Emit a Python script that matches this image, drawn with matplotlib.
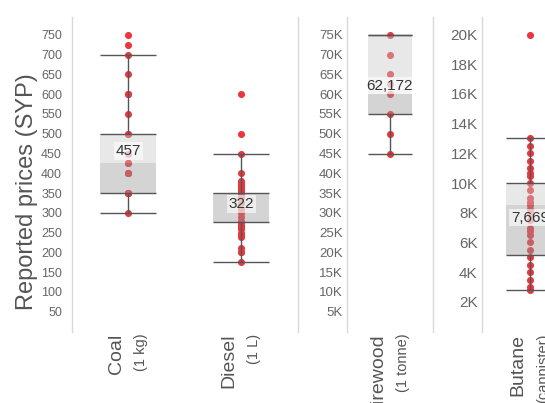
import matplotlib.pyplot as plt
from matplotlib.ticker import FuncFormatter

plt.rcParams['font.family'] = ['Liberation Sans', 'DejaVu Sans']

# reported prices per item
coal = [750, 725, 700, 650, 600, 600, 550, 500, 500, 450, 425, 425, 400, 400, 400,
        350, 350, 350, 350, 300]
diesel = [600, 500, 450, 400, 380, 375, 370, 365, 360, 355, 350, 350, 350, 340, 325,
          310, 300, 290, 280, 275, 270, 265, 260, 250, 245, 240, 210, 200, 200, 175]
firewood = [75000, 70000, 65000, 62500, 60000, 55000, 50000, 45000]
butane = [20000, 13000, 12500, 12000, 11500, 11000, 10700, 10500, 10000, 9500, 9000,
          8750, 8500, 8250, 8000, 7500, 7000, 6750, 6500, 6000, 5500, 5000, 4500,
          4000, 3500, 3000, 2800]

categories = ['Coal', 'Diesel', 'Firewood', 'Butane']
units = ['(1 kg)', '(1 L)', '(1 tonne)', '(cannister)']
points = [coal, diesel, firewood, butane]

# box plot statistics
whisk_lo = [300, 175, 45000, 2800]
q1 = [350, 276, 55000, 5150]
median = [425, 350, 60000, 8550]
q3 = [500, 350, 75000, 10000]
whisk_hi = [700, 450, 75000, 13050]
means = [457, 322, 62172, 7669]

red = '#e8383e'
line_c = '#555555'
grid_c = '#d9d9d9'

fig = plt.figure(figsize=(5.45, 4.03), dpi=100)

# three panels with their own y scales
ax1 = fig.add_axes([0.1316, 0.1774, 0.4147, 0.7812])
ax2 = fig.add_axes([0.6361, 0.1774, 0.1589, 0.7812])
ax3 = fig.add_axes([0.8839, 0.1774, 0.1783, 0.7812])

panels = [(ax1, [0, 1]), (ax2, [2]), (ax3, [3])]


def draw_box(ax, x, i, w=0.5):
    vals = points[i]
    ax.scatter([x] * len(vals), vals, s=26, color=red, linewidths=0, zorder=2)
    # light upper half, darker lower half (drawn over the dots)
    ax.bar(x, q3[i] - median[i], bottom=median[i], width=w, color='#c9c9c9', alpha=0.42, zorder=3)
    ax.bar(x, median[i] - q1[i], bottom=q1[i], width=w, color='#999999', alpha=0.42, zorder=3)
    ax.hlines([whisk_lo[i], q1[i], q3[i], whisk_hi[i]], x - w / 2, x + w / 2,
              colors=line_c, linewidth=1.0, zorder=4)
    ax.vlines(x, whisk_lo[i], q1[i], colors=line_c, linewidth=1.0, zorder=4)
    ax.vlines(x, q3[i], whisk_hi[i], colors=line_c, linewidth=1.0, zorder=4)
    ax.text(x, means[i], f'{means[i]:,}', ha='center', va='center', fontsize=11, color='#333333',
            zorder=5, bbox=dict(boxstyle='square,pad=0.12', facecolor='white', alpha=0.6, edgecolor='none'))
    # category label, big name + small unit
    ax.annotate(categories[i], xy=(x, 0), xycoords=('data', 'axes fraction'),
                xytext=(-12, -2), textcoords='offset pixels', rotation=90,
                ha='center', va='top', fontsize=14, color=line_c)
    ax.annotate(units[i], xy=(x, 0), xycoords=('data', 'axes fraction'),
                xytext=(13, -2), textcoords='offset pixels', rotation=90,
                ha='center', va='top', fontsize=10.5, color=line_c)


for ax, idx in panels:
    ax.set_xlim(-0.5, len(idx) - 0.5)
    for k, i in enumerate(idx):
        draw_box(ax, k, i)
    ax.set_xticks([])
    for s in ['top', 'bottom']:
        ax.spines[s].set_visible(False)
    for s in ['left', 'right']:
        ax.spines[s].set_color(grid_c)
        ax.spines[s].set_linewidth(1.0)
    ax.tick_params(axis='y', length=0, labelcolor='#666666')

kfmt = FuncFormatter(lambda v, p: f'{v / 1000:.0f}K')

ax1.set_ylim(0, 796)
ax1.set_yticks(list(range(50, 800, 50)))
ax1.tick_params(axis='y', labelsize=9, pad=7)

ax2.set_ylim(0, 79600)
ax2.set_yticks(list(range(5000, 80000, 5000)))
ax2.yaxis.set_major_formatter(kfmt)
ax2.tick_params(axis='y', labelsize=9.5, pad=3)

ax3.set_ylim(0, 21200)
ax3.set_yticks(list(range(2000, 22000, 2000)))
ax3.yaxis.set_major_formatter(kfmt)
ax3.tick_params(axis='y', labelsize=11, pad=3)

fig.text(27 / 545, 1 - 192 / 403, 'Reported prices (SYP)', rotation=90, ha='center', va='center',
         fontsize=17, color=line_c)

fig.savefig('out.png', dpi=100)
